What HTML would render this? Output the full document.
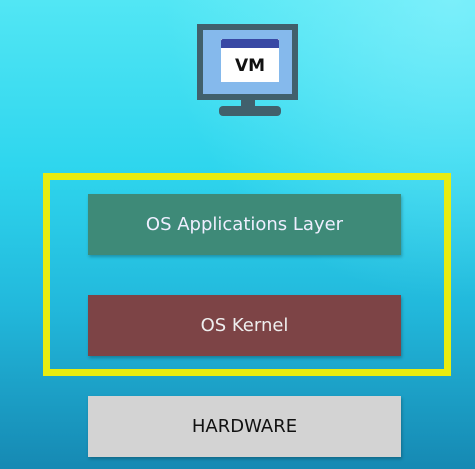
<!DOCTYPE html>
<html><head><style>
body{margin:0;width:475px;height:469px;overflow:hidden;position:relative;font-family:"DejaVu Sans","Liberation Sans",sans-serif;
background:linear-gradient(180deg,#52e6f4 0%,#2fd6ee 35%,#22b9dc 65%,#1689b3 100%);}
.a{position:absolute}
.box{position:absolute;left:88px;width:313px;height:61px;display:flex;align-items:center;justify-content:center;font-size:18px;box-shadow:1px 2px 3px rgba(0,0,0,.25)}
</style></head><body>
<div class="a" style="left:0;top:0;width:475px;height:469px;background:radial-gradient(ellipse at 95% 0%,rgba(150,245,255,.6),rgba(150,245,255,0) 45%)"></div>
<div class="a" style="left:197px;top:24px;width:101px;height:76px;background:#41606c"></div>
<div class="a" style="left:203px;top:30px;width:89px;height:64px;background:#85b9ec"></div>
<div class="a" style="left:221px;top:39px;width:58px;height:43px;background:#fff"></div>
<div class="a" style="left:221px;top:39px;width:58px;height:9px;background:#3848a4;border-radius:2px 2px 0 0"></div>
<div class="a" style="left:221px;top:49px;width:58px;height:33px;display:flex;align-items:center;justify-content:center;font-weight:bold;font-size:17px;color:#111">VM</div>
<div class="a" style="left:241px;top:100px;width:14px;height:8px;background:#41606c"></div>
<div class="a" style="left:219px;top:106px;width:62px;height:10px;background:#41606c;border-radius:4px"></div>
<div class="a" style="left:43px;top:173px;width:394px;height:189px;border:7px solid #e8ec10"></div>
<div class="box" style="top:194px;background:#3e8a78;color:#eef">OS Applications Layer</div>
<div class="box" style="top:295px;background:#7d4446;color:#eee">OS Kernel</div>
<div class="box" style="top:396px;background:#d3d3d3;color:#111">HARDWARE</div>
</body></html>
